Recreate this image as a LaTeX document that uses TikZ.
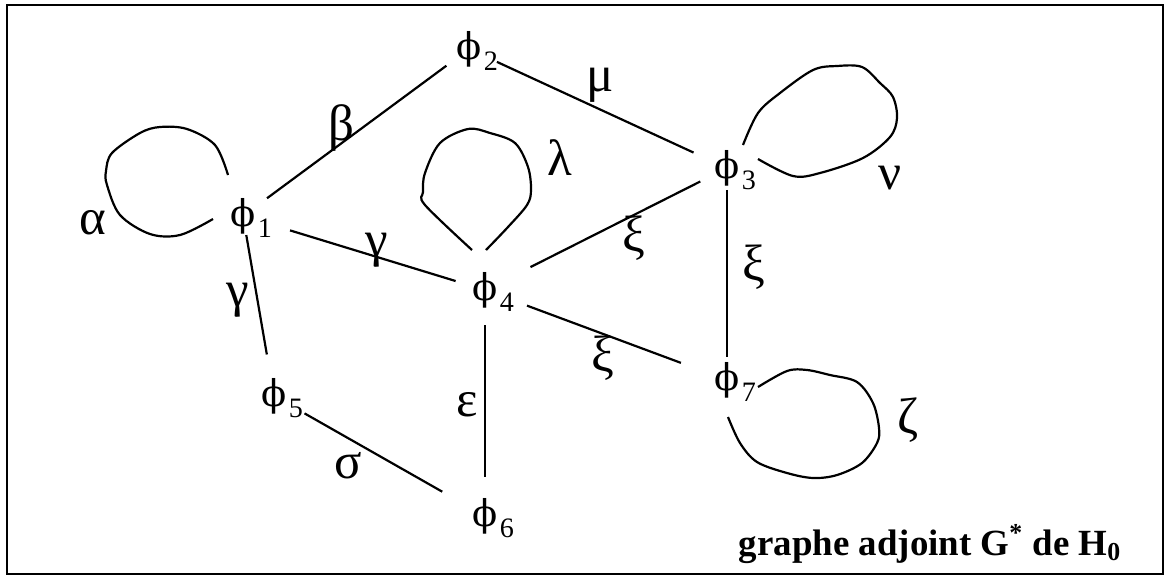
\documentclass[tikz,border=0pt]{standalone}
\usepackage{fontspec}
\setmainfont{Liberation Serif}
\newfontfamily\phifont{DejaVu Serif}
\usetikzlibrary{positioning}

\begin{document}
\begin{tikzpicture}[
  x=0.02cm, y=-0.02cm,
  phinode/.style={inner sep=0pt, font=\phifont\fontsize{21}{21}\selectfont},
  subnum/.style={inner sep=0pt, font=\fontsize{16}{16}\selectfont},
  lbl/.style={inner sep=0pt, font=\fontsize{29}{29}\selectfont},
  edge/.style={line width=1.25pt},
  loopline/.style={line width=1.25pt, smooth, tension=0.55},
  title/.style={inner sep=0pt, font=\fontsize{21}{21}\selectfont\bfseries}
]
\useasboundingbox (0,0) rectangle (1165,576);
\draw[line width=1.3pt] (7,5) rectangle (1163,574);

% vertices
\foreach \n/\x/\y in {1/243/216, 2/469/49, 3/727/168, 4/485/290, 5/274/396, 6/485/516, 7/727/380} {
  \node[phinode] (phi\n) at (\x,\y) {ϕ};
  \node[subnum] (sub\n) at ([shift={(22,12)}]phi\n.center) {\n};
}

% edges
\foreach \a/\b/\s/\e in {phi1/phi2/17pt/16pt, phi2/phi3/17.5pt/21pt, phi1/phi4/28pt/17.5pt,
  phi1/phi5/11pt/24pt, phi5/phi6/20pt/28pt, phi4/phi6/20pt/22pt, phi4/phi3/29pt/17pt,
  phi4/phi7/25.5pt/28pt, phi3/phi7/12.5pt/13pt}
  \draw[edge, shorten <=\s, shorten >=\e] (\a.center) -- (\b.center);

% loops
\draw[loopline, shift={(phi1.center)}] plot coordinates {(-15,-41) (-28,-71) (-56,-87) (-83,-89) (-103,-83)
  (-131,-63) (-137,-45) (-136,-31) (-123,-1) (-93,18) (-63,19) (-30,3)};
\draw[loopline, shift={(phi4.center)}] plot coordinates {(-13,-40) (-60,-85) (-62,-98) (-60,-117) (-45,-147)
  (-17,-161) (5,-157) (30,-147) (43,-123) (46,-100) (42,-85) (23,-63) (1,-40)};
\draw[loopline, shift={(phi3.center)}] plot coordinates {(16,-23) (31,-55) (53,-75) (86,-98) (110,-102)
  (135,-101) (153,-85) (166,-71) (170,-50) (163,-31) (136,-10) (93,5) (66,8) (31,-9)};
\draw[loopline, shift={(phi7.center)}] plot coordinates {(31,7) (60,-9) (80,-10) (103,-5) (130,2)
  (146,23) (152,48) (150,63) (135,83) (110,95) (86,98) (60,93) (30,82) (13,63) (1,37)};

% labels
\node[lbl] (alpha) at (93,223) {α};
\node[lbl] (beta) at (341,128) {β};
\node[lbl] (gammaA) at (377,250) {γ};
\node[lbl] (gammaB) at (238,300) {γ};
\node[lbl] (lambda) at (560,158) {λ};
\node[lbl] (mu) at (600,85) {μ};
\node[lbl] (nu) at (890,178) {ν};
\node[lbl] (xiA) at (634,238) {ξ};
\node[lbl] (xiB) at (754,267) {ξ};
\node[lbl] (xiC) at (603,358) {ξ};
\node[lbl] (zeta) at (908,420) {ζ};
\node[lbl] (eps) at (467,405) {ε};
\node[lbl] (sigma) at (348,466) {σ};

\node[title, anchor=base] (caption) at (930,555) {graphe adjoint G\textsuperscript{*} de H\textsubscript{0}};
\end{tikzpicture}
\end{document}
